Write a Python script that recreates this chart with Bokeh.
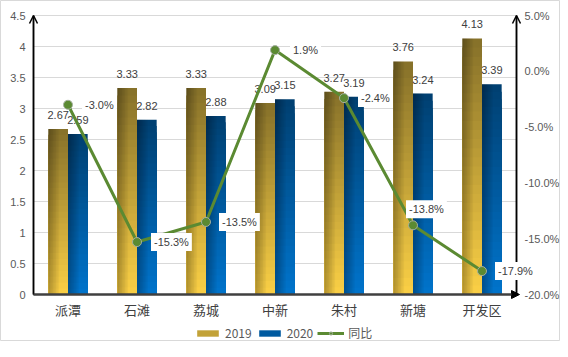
from bokeh.plotting import figure
from bokeh.models import (ColumnDataSource, Range1d, LinearAxis, FixedTicker, PrintfTickFormatter,
                          Legend, LegendItem, Arrow, OpenHead, NormalHead)
from bokeh.core.properties import value
from bokeh.embed import file_html
from bokeh.resources import INLINE

# ---------------- data ----------------
categories = ["派潭", "石滩", "荔城", "中新", "朱村", "新塘", "开发区"]
v2019 = [2.67, 3.33, 3.33, 3.09, 3.27, 3.76, 4.13]
v2020 = [2.59, 2.82, 2.88, 3.15, 3.19, 3.24, 3.39]
yoy = [-3.0, -15.3, -13.5, 1.9, -2.4, -13.8, -17.9]
left_ticks = [0, 0.5, 1, 1.5, 2, 2.5, 3, 3.5, 4, 4.5]
left_tick_labels = ["0", "0.5", "1", "1.5", "2", "2.5", "3", "3.5", "4", "4.5"]
right_ticks = [-20, -15, -10, -5, 0, 5]
series_names = ["2019", "2020", "同比"]

# ---------------- layout / style ----------------
W, H = 560, 341
PX_L, PX_R, PX_T, PX_B = 33, 516, 15, 294     # plot-area edges in page pixels
BAR_W = 0.285
OFF = 0.1425
NUM_FONT = "Liberation Sans"
CJK_FONT = "Noto Sans CJK SC"
LABEL_COLOR = "#404040"
TICK_COLOR = "#595959"
LINE_COLOR = "#5B8A32"
yoy_x_off = [14, 14, 13, 15, 14, -7, 13]
yoy_y_off = [0, 0, 0, 0, 0, -16, 0]
grad_2019 = ("#FBD045", "#85702A")   # bottom, top
grad_2020 = ("#0074CC", "#003F70")

n = len(categories)
xs = list(range(n))
XA, XB = -0.5, n - 0.5
YA, YB = left_ticks[0], left_ticks[-1]
PA, PB = right_ticks[0], right_ticks[-1]

xpp = (XB - XA) / (PX_R - PX_L)
ypp = (YB - YA) / (PX_B - PX_T)
ppp = (PB - PA) / (PX_B - PX_T)
x_range = Range1d(XA - PX_L * xpp, XB + (W - PX_R) * xpp)
y_range = Range1d(YA - (H - PX_B) * ypp, YB + PX_T * ypp)
p_range = Range1d(PA - (H - PX_B) * ppp, PB + PX_T * ppp)


def hex2rgb(h):
    h = h.lstrip("#")
    return tuple(int(h[i:i + 2], 16) for i in (0, 2, 4))


def lerp(c0, c1, t):
    a, b = hex2rgb(c0), hex2rgb(c1)
    return "#%02x%02x%02x" % tuple(round(a[i] + (b[i] - a[i]) * t) for i in range(3))


p = figure(width=W, height=H, output_backend="svg", toolbar_location=None,
           x_range=x_range, y_range=y_range, x_axis_type=None, y_axis_type=None,
           min_border=0)
p.outline_line_color = "#D9D9D9"
p.outline_line_width = 1
p.background_fill_color = "white"
p.border_fill_color = "white"
p.xgrid.visible = False
p.ygrid.visible = False
p.extra_y_ranges = {"pct": p_range}

# horizontal grid lines (within the plot area only)
p.segment(x0=[XA] * len(left_ticks), x1=[XB] * len(left_ticks), y0=left_ticks, y1=left_ticks,
          line_color="#D9D9D9", line_width=1)

# gradient bars
N = 28
M = 7


def gradient_bars(vals, offset, grad):
    seg = dict(x=[], top=[], color=[])
    for k in reversed(range(N)):
        for i, v in enumerate(vals):
            seg["x"].append(i + offset)
            seg["top"].append(v * (k + 1) / N)
            seg["color"].append(lerp(grad[0], grad[1], (k + 0.5) / N))
    r = p.vbar(x="x", top="top", bottom=0, width=BAR_W, fill_color="color", line_color=None,
               source=ColumnDataSource(seg))
    sh = dict(x=[], w=[], top=[])
    for j in range(M):
        frac = 0.55 * (j + 1) / M
        for i, v in enumerate(vals):
            left = i + offset - BAR_W / 2
            sh["x"].append(left + BAR_W * frac / 2)
            sh["w"].append(BAR_W * frac)
            sh["top"].append(v)
    p.vbar(x="x", top="top", bottom=0, width="w", fill_color="black", fill_alpha=0.045,
           line_color=None, source=ColumnDataSource(sh))
    return r


r19 = gradient_bars(v2019, -OFF, grad_2019)
r20 = gradient_bars(v2020, OFF, grad_2020)

# bar labels
lab = ColumnDataSource(dict(
    x=[i - OFF for i in xs] + [i + OFF for i in xs],
    y=v2019 + v2020,
    t=["%.2f" % v for v in v2019] + ["%.2f" % v for v in v2020],
))
p.text(x="x", y="y", text="t", source=lab, text_align="center", text_baseline="middle",
       y_offset=-14, text_font=value(NUM_FONT), text_font_size="11px", text_color=LABEL_COLOR)

# yoy line
lsrc = ColumnDataSource(dict(x=xs, y=yoy, t=["%.1f%%" % v for v in yoy],
                             xo=yoy_x_off, yo=yoy_y_off))
r_line = p.line(x="x", y="y", source=lsrc, y_range_name="pct", line_color=LINE_COLOR, line_width=3)
r_pts = p.scatter(x="x", y="y", source=lsrc, y_range_name="pct", marker="circle", size=9,
                  fill_color=LINE_COLOR, line_color="#A5AFA0", line_width=1)
p.text(x="x", y="y", text="t", source=lsrc, y_range_name="pct", x_offset="xo", y_offset="yo",
       text_align="left", text_baseline="middle", text_font=value(NUM_FONT),
       text_font_size="11px", text_color=LABEL_COLOR,
       background_fill_color="white", padding=3, level="overlay")


def style_axis(ax, font, size, color, standoff, line_color, line_width):
    ax.major_label_text_font = font
    ax.major_label_text_font_size = size
    ax.major_label_text_color = color
    ax.major_label_standoff = standoff
    ax.axis_line_color = line_color
    ax.axis_line_width = line_width
    ax.major_tick_line_color = None
    ax.minor_tick_line_color = None
    ax.major_tick_out = 0
    ax.major_tick_in = 0
    ax.minor_tick_out = 0
    ax.minor_tick_in = 0


# axes (drawn at fixed positions inside the frame)
xax = LinearAxis(fixed_location=YA, bounds=(XA, XB), ticker=FixedTicker(ticks=xs))
xax.major_label_overrides = {i: c for i, c in enumerate(categories)}
style_axis(xax, CJK_FONT, "13px", LABEL_COLOR, 5, "#404040", 2)
p.add_layout(xax, "below")

yax = LinearAxis(fixed_location=XA, bounds=(YA, YB), ticker=FixedTicker(ticks=left_ticks))
yax.major_label_overrides = {t: s for t, s in zip(left_ticks, left_tick_labels)}
style_axis(yax, NUM_FONT, "11px", TICK_COLOR, 8, "black", 1.5)
p.add_layout(yax, "left")

ry = LinearAxis(y_range_name="pct", fixed_location=XB, bounds=(PA, PB),
                ticker=FixedTicker(ticks=right_ticks), formatter=PrintfTickFormatter(format="%.1f%%"))
style_axis(ry, NUM_FONT, "11px", TICK_COLOR, 8, "black", 1.5)
p.add_layout(ry, "right")

# axis arrow heads
p.add_layout(Arrow(end=OpenHead(size=8, line_width=1.5, line_color="black"),
                   x_start=XA, x_end=XA, y_start=YA, y_end=YB, line_color="black", line_width=1.5))
p.add_layout(Arrow(end=OpenHead(size=8, line_width=1.5, line_color="black"),
                   x_start=XB, x_end=XB, y_start=YA, y_end=YB, line_color="black", line_width=1.5))
p.add_layout(Arrow(end=NormalHead(size=8, fill_color="black", line_color="black"),
                   x_start=XA, x_end=XB + 3 * xpp, y_start=YA, y_end=YA,
                   line_color="#404040", line_width=2))

legend = Legend(items=[LegendItem(label=series_names[0], renderers=[r19], index=N * n // 2),
                       LegendItem(label=series_names[1], renderers=[r20], index=N * n // 2),
                       LegendItem(label=series_names[2], renderers=[r_line, r_pts])],
                orientation="horizontal", location=(194, 0), glyph_width=27, glyph_height=8,
                label_standoff=4, spacing=4, padding=0, margin=0,
                label_text_font=CJK_FONT, label_text_font_size="12px", label_text_color=TICK_COLOR,
                border_line_color=None, background_fill_alpha=0)
p.add_layout(legend)

open("out.html", "w").write(file_html(p, INLINE))
